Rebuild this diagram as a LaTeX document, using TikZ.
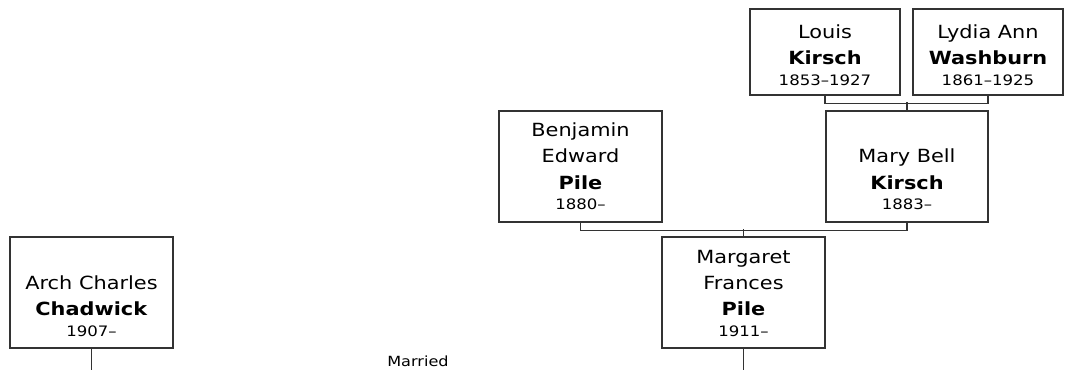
\documentclass[tikz,border=0pt]{standalone}
\usepackage{fontspec}
\setmainfont{DejaVu Sans}[FakeStretch=1.15]
\usepackage{tikz}
\usetikzlibrary{positioning}
\newcommand{\lifespan}[1]{\\[-4.5pt]{\fontsize{10.8}{13}\selectfont #1}}

\begin{document}
\begin{tikzpicture}[
    x=0.75pt, y=-0.75pt,
]
\definecolor{lineGrey}{HTML}{333333}

\tikzset{
    person/.style={
        rectangle, draw=lineGrey, line width=1pt, fill=white,
        minimum width=122.25pt, minimum height=83.25pt, inner sep=0pt,
    },
    elder/.style={person, minimum width=112.5pt, minimum height=64.5pt},
    nametext/.style={align=center, inner sep=0pt, font=\fontsize{13.6}{19.8}\selectfont},
    link/.style={draw=lineGrey, line width=1pt},
    note/.style={font=\fontsize{10.5}{13}\selectfont},
}

\useasboundingbox (0,0) rectangle (1066,369);

% grandparents
\node[elder] (louis) at (825,52) {};
\node[elder] (lydia) at (988,52) {};
\node[nametext, above=7.5pt of louis.south] (louisT) {Louis\\\textbf{Kirsch}\lifespan{1853–1927}};
\node[nametext, above=7.5pt of lydia.south] (lydiaT) {Lydia Ann\\\textbf{Washburn}\lifespan{1861–1925}};

% parents
\node[person] (benjamin) at (580.5,166.5) {};
\node[person, minimum width=121.5pt] (mary) at (907,166.5) {};
\node[nametext, above=9.5pt of benjamin.south] (benjaminT) {Benjamin\\Edward\\\textbf{Pile}\lifespan{1880–}};
\node[nametext, above=9.5pt of mary.south] (maryT) {Mary Bell\\\textbf{Kirsch}\lifespan{1883–}};

% couple
\node[person] (arch) at (91.5,292.5) {};
\node[person] (margaret) at (743.5,292.5) {};
\node[nametext, above=9pt of arch.south] (archT) {Arch Charles\\\textbf{Chadwick}\lifespan{1907–}};
\node[nametext, above=9pt of margaret.south] (margaretT) {Margaret\\Frances\\\textbf{Pile}\lifespan{1911–}};

\node[note] (married) at (418,361) {Married};

\draw[link] (louis.south) -- ++(0,8) -| (lydia.south);
\draw[link] (mary.north) -- ++(0,-8);
\draw[link] (benjamin.south) -- ++(0,8) -| (mary.south);
\draw[link] (margaret.north) -- ++(0,-7);
\draw[link] (arch.south) -- ++(0,21);
\draw[link] (margaret.south) -- ++(0,21);

\end{tikzpicture}
\end{document}
